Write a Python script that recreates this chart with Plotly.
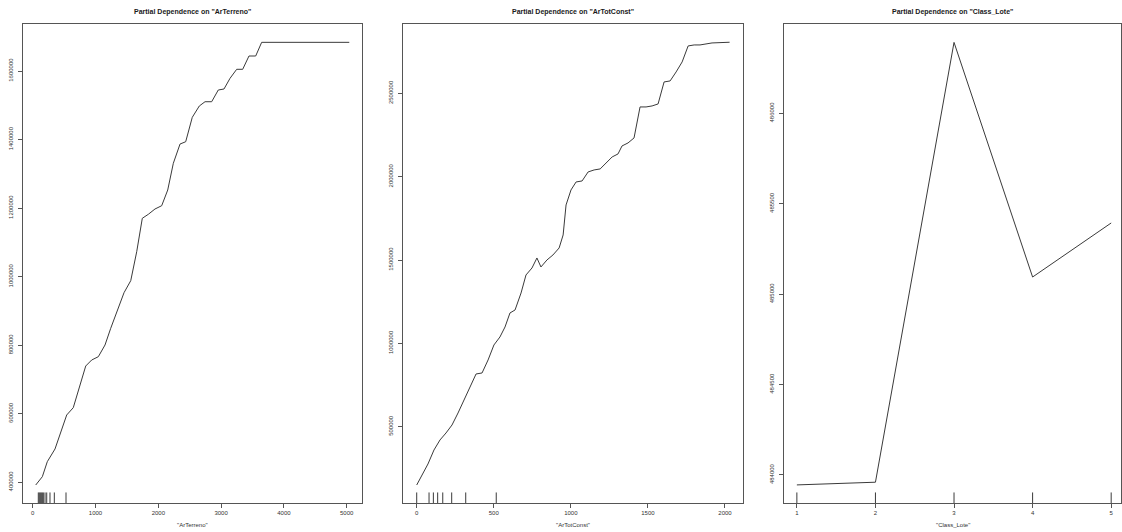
import plotly.graph_objects as go

# ---------------- data ----------------
# Panel 1: ArTerreno
ar_terreno_x = [48, 153, 232, 355, 541, 646, 844, 939, 1045, 1151, 1242, 1454, 1561, 1656,
                1745, 1841, 1947, 2054, 2150, 2239, 2346, 2436, 2541, 2653, 2744, 2850,
                2955, 3046, 3142, 3248, 3344, 3444, 3551, 3646, 5041]
ar_terreno_y = [392100, 416300, 460100, 497200, 596400, 617700, 739300, 756800, 766500,
                800600, 849300, 953200, 988200, 1072800, 1170300, 1181900, 1197400,
                1207000, 1252800, 1330700, 1387000, 1393700, 1464900, 1497900, 1510400,
                1510400, 1544600, 1547500, 1578700, 1605000, 1605000, 1643800, 1643800,
                1683700, 1683700]
ar_terreno_rug = [89, 105, 121, 137, 153, 169, 196, 223, 275, 344, 530]

# Panel 2: ArTotConst
ar_totconst_x = [0, 34, 73, 112, 151, 190, 229, 268, 307, 346, 385, 424, 463, 501, 540, 573,
                 605, 638, 677, 709, 748, 780, 806, 845, 884, 924, 950, 969, 1001, 1034,
                 1073, 1112, 1151, 1190, 1229, 1268, 1306, 1332, 1371, 1410, 1449, 1488,
                 1527, 1566, 1605, 1644, 1683, 1722, 1761, 1800, 1838, 1916, 2030]
ar_totconst_y = [150200, 210200, 276200, 360200, 420200, 462200, 510200, 582200, 660200,
                 738200, 816200, 822200, 900200, 990200, 1038200, 1098200, 1182200,
                 1200200, 1302200, 1410200, 1452200, 1512200, 1458200, 1500200, 1530200,
                 1572200, 1650200, 1830200, 1920200, 1968200, 1974200, 2028200, 2040200,
                 2046200, 2082200, 2118200, 2136200, 2184200, 2202200, 2232200, 2418200,
                 2418200, 2424200, 2436200, 2568200, 2574200, 2628200, 2688200, 2784200,
                 2790200, 2790200, 2802200, 2806400]
ar_totconst_rug = [0, 80, 108, 136, 169, 227, 318, 516]

# Panel 3: Class_Lote
class_lote_x = [1, 2, 3, 4, 5]
class_lote_y = [483945, 483960, 486393, 485095, 485394]
class_lote_rug = [1, 2, 3, 4, 5]

titles = ['Partial Dependence on "ArTerreno"',
          'Partial Dependence on "ArTotConst"',
          'Partial Dependence on "Class_Lote"']
xlabels = ['"ArTerreno"', '"ArTotConst"', '"Class_Lote"']

x_ticks = [[0, 1000, 2000, 3000, 4000, 5000],
           [0, 500, 1000, 1500, 2000],
           [1, 2, 3, 4, 5]]
y_ticks = [[400000, 600000, 800000, 1000000, 1200000, 1400000, 1600000],
           [500000, 1000000, 1500000, 2000000, 2500000],
           [484000, 484500, 485000, 485500, 486000]]

# ---------------- layout geometry ----------------
W, H = 1122, 532
px_domains = [(23.3, 361.7), (403.3, 742.7), (784.3, 1121.0)]
y_dom = [(H - 503) / H, (H - 24.3) / H]
x_ranges = [[-150, 5239], [-87, 2115], [0.84, 5.125]]
y_ranges = [[339600, 1736300], [42200, 2914000], [483845, 486493]]

series = [(ar_terreno_x, ar_terreno_y, ar_terreno_rug),
          (ar_totconst_x, ar_totconst_y, ar_totconst_rug),
          (class_lote_x, class_lote_y, class_lote_rug)]

LINE = '#3a3a3a'
AX = '#555555'
TXT = '#333333'
FONT = 'Liberation Sans, Arial, sans-serif'

fig = go.Figure()
layout = dict(width=W, height=H, margin=dict(l=0, r=0, t=0, b=0),
              paper_bgcolor='white', plot_bgcolor='white', showlegend=False,
              annotations=[], shapes=[])

for i, (xs, ys, rug) in enumerate(series):
    n = '' if i == 0 else str(i + 1)
    fig.add_trace(go.Scatter(x=xs, y=ys, mode='lines',
                             line=dict(color=LINE, width=1),
                             xaxis='x' + n, yaxis='y' + n, hoverinfo='skip'))
    d0, d1 = px_domains[i]
    layout['xaxis' + n] = dict(
        domain=[d0 / W, d1 / W], range=x_ranges[i], anchor='y' + n,
        showgrid=False, zeroline=False, showline=True, linecolor=AX, linewidth=1,
        mirror=True, ticks='outside', ticklen=4, tickcolor=AX, tickwidth=1,
        tickvals=x_ticks[i], ticktext=[str(v) for v in x_ticks[i]],
        tickfont=dict(family=FONT, size=6, color=TXT))
    layout['yaxis' + n] = dict(
        domain=list(y_dom), range=y_ranges[i], anchor='x' + n,
        showgrid=False, zeroline=False, showline=True, linecolor=AX, linewidth=1,
        mirror=True, ticks='outside', ticklen=4, tickcolor=AX, tickwidth=1,
        tickvals=y_ticks[i], ticktext=[str(v) for v in y_ticks[i]],
        tickangle=-90, ticklabelstandoff=3,
        tickfont=dict(family=FONT, size=6, color=TXT))
    # rug marks at the bottom of the panel
    for r in rug:
        layout['shapes'].append(dict(type='line', xref='x' + n, yref='y' + n + ' domain',
                                     x0=r, x1=r, y0=0, y1=0.022,
                                     line=dict(color=LINE, width=1)))
    cx = (d0 + d1) / 2 / W
    layout['annotations'].append(dict(
        text='<b>' + titles[i] + '</b>', x=cx, y=(H - 12) / H, xref='paper', yref='paper',
        showarrow=False, xanchor='center', yanchor='middle',
        font=dict(family=FONT, size=7, color='#1a1a1a')))
    layout['annotations'].append(dict(
        text=xlabels[i], x=cx, y=(H - 525) / H, xref='paper', yref='paper',
        showarrow=False, xanchor='center', yanchor='middle',
        font=dict(family=FONT, size=6, color=TXT)))

fig.update_layout(**layout)
fig.write_html('out.html',
               config={'displayModeBar': False, 'staticPlot': True},
               post_script="document.body.style.margin='0';document.body.style.overflow='hidden';")
